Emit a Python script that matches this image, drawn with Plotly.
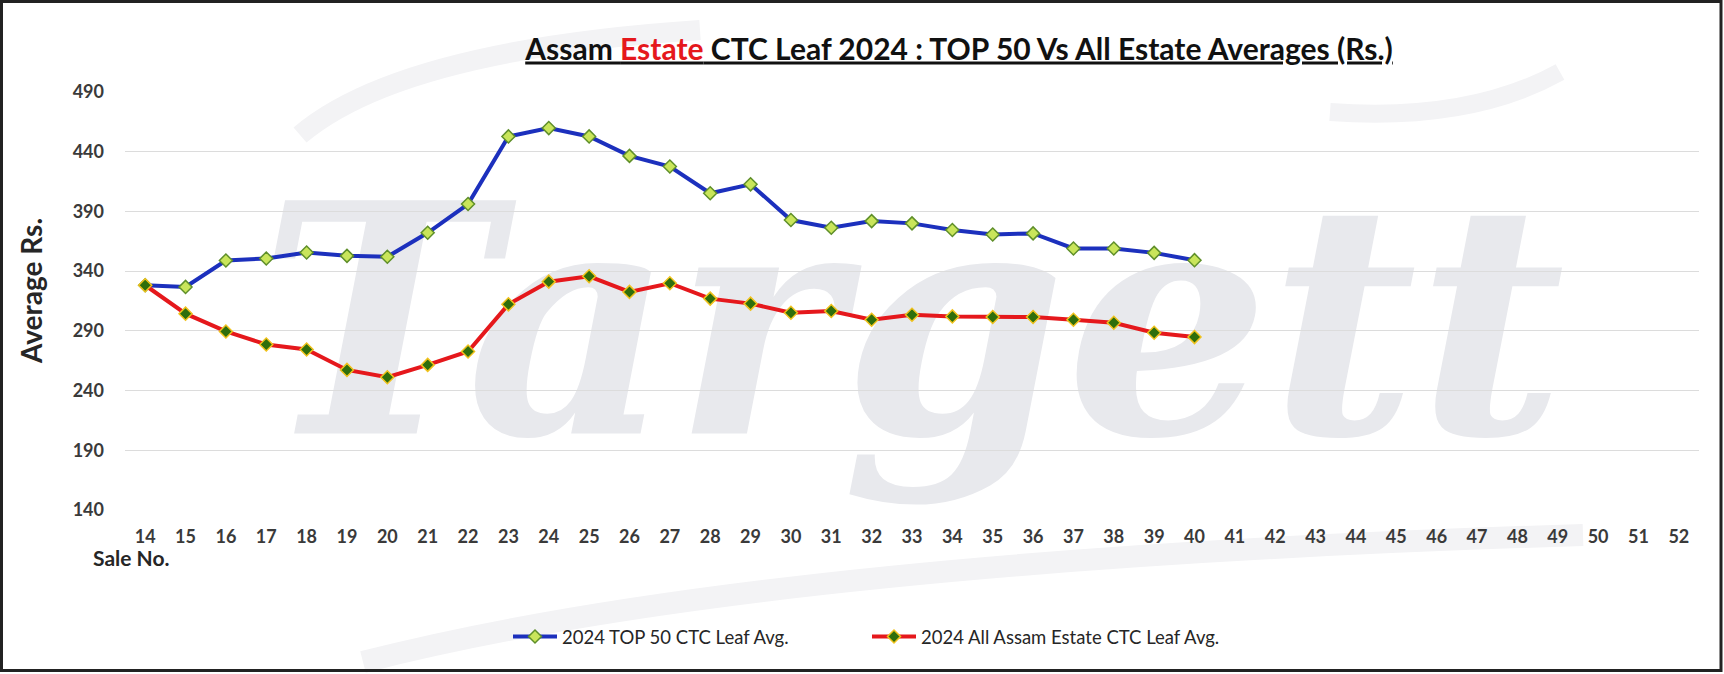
import plotly.graph_objects as go

# ---------------- data ----------------
sale_ticks = list(range(14, 53))
sale_nos = list(range(14, 41))
top50_avg = [328.2, 326.8, 348.9, 350.6, 355.6, 352.8, 352.0, 372.1, 396.2,
             452.8, 459.8, 452.8, 436.5, 427.6, 405.2, 412.7, 382.8, 376.3,
             381.9, 380.0, 374.4, 370.7, 371.6, 359.0, 359.0, 355.3, 349.2]
all_assam_avg = [328.2, 304.4, 289.5, 278.6, 274.4, 257.3, 251.2, 261.5, 272.7,
                 312.2, 331.2, 335.7, 322.6, 329.9, 317.0, 312.8, 305.2, 306.6,
                 299.3, 303.5, 302.1, 301.6, 301.6, 299.3, 296.8, 288.4, 284.8]
series_names = ["2024 TOP 50 CTC Leaf Avg.", "2024 All Assam Estate CTC Leaf Avg."]
y_ticks = [140, 190, 240, 290, 340, 390, 440, 490]

# ---------------- layout geometry ----------------
W, H = 1724, 674
ML, MR, MT, MB = 125, 25, 92, 164
PW, PH = W - ML - MR, H - MT - MB


def px_x(px):
    return (px - ML) / PW


def px_y(py):
    return (H - MB - py) / PH


def swoosh(p0, c, p1):
    return "M {},{} Q {},{} {},{}".format(px_x(p0[0]), px_y(p0[1]),
                                         px_x(c[0]), px_y(c[1]),
                                         px_x(p1[0]), px_y(p1[1]))


FONT = "Lato"
TXT = "#3a3a3a"

fig = go.Figure()

fig.add_trace(go.Scatter(
    x=sale_nos, y=top50_avg, name=series_names[0], mode="lines+markers",
    line=dict(color="#1c30bd", width=4),
    marker=dict(symbol="diamond", size=10, color="#c9e55a",
                line=dict(color="#5f8f2a", width=1.5)),
))
fig.add_trace(go.Scatter(
    x=sale_nos, y=all_assam_avg, name=series_names[1], mode="lines+markers",
    line=dict(color="#e5181c", width=4),
    marker=dict(symbol="diamond", size=10, color="#2f6e0c",
                line=dict(color="#f0c21c", width=1.5)),
))

title_text = ("<u>Assam <span style='color:#e5181c'>Estate</span> CTC Leaf 2024 : "
              "TOP 50 Vs All Estate Averages (Rs.)</u>")

wm_color = "#f3f3f5"

fig.update_layout(
    width=W, height=H,
    margin=dict(l=ML, r=MR, t=MT, b=MB),
    paper_bgcolor="white", plot_bgcolor="rgba(0,0,0,0)",
    title=dict(text=title_text, xref="container", x=959 / W, xanchor="center",
               yref="container", y=1 - 49 / H, yanchor="middle",
               font=dict(family=FONT, size=30, color="#111111", weight="bold")),
    xaxis=dict(range=[13.5, 52.5], tickmode="array", tickvals=sale_ticks,
               ticktext=[str(v) for v in sale_ticks], showgrid=False,
               zeroline=False, showline=False, ticks="",
               ticklabelstandoff=14,
               tickfont=dict(family=FONT, size=18, color=TXT, weight="bold")),
    yaxis=dict(range=[140, 490], tickmode="array", tickvals=y_ticks,
               showgrid=True, gridcolor="#dcdcdc", gridwidth=1,
               zeroline=False, showline=False, ticks="",
               ticklabelstandoff=20,
               tickfont=dict(family=FONT, size=18, color=TXT, weight="bold")),
    legend=dict(orientation="h", x=px_x(867), xanchor="center",
                y=px_y(637), yanchor="middle",
                font=dict(family=FONT, size=18.5, color="#262626"),
                bgcolor="rgba(0,0,0,0)", itemwidth=44,
                entrywidth=300, entrywidthmode="pixels"),
    showlegend=True,
    annotations=[
        dict(text="<b>Average Rs.</b>", textangle=-90, xref="paper", yref="paper",
             x=px_x(31), y=px_y(291), xanchor="center", yanchor="middle",
             showarrow=False, font=dict(family=FONT, size=28, color="#262626")),
        dict(text="<b>Sale No.</b>", xref="paper", yref="paper",
             x=px_x(131), y=px_y(557), xanchor="center", yanchor="middle",
             showarrow=False, font=dict(family=FONT, size=21, color="#262626")),
    ],
    shapes=[
        # watermark swooshes
        dict(type="path", xref="paper", yref="paper", layer="below",
             path=swoosh((300, 135), (400, 50), (700, 30)),
             line=dict(color=wm_color, width=20)),
        dict(type="path", xref="paper", yref="paper", layer="below",
             path=swoosh((1330, 112), (1470, 122), (1560, 72)),
             line=dict(color=wm_color, width=18)),
        dict(type="path", xref="paper", yref="paper", layer="below",
             path=swoosh((363, 662), (760, 560), (1583, 535)),
             line=dict(color=wm_color, width=22)),
        # watermark text
        dict(type="rect", xref="paper", yref="paper", x0=0, x1=1, y0=0, y1=1,
             line=dict(width=0), fillcolor="rgba(0,0,0,0)", layer="below",
             label=dict(text="<b><i>Targett</i></b>", textposition="middle center",
                        font=dict(family="DejaVu Serif", size=320, color="#e8e9ed"))),
        # figure border
        dict(type="rect", xref="paper", yref="paper",
             x0=px_x(1.5), x1=px_x(1721), y0=px_y(1.5), y1=px_y(670.5),
             line=dict(color="#222222", width=3), fillcolor="rgba(0,0,0,0)",
             layer="above"),
    ],
)

fig.write_html("out.html", config={"displayModeBar": False},
               post_script="document.body.style.margin='0';document.body.style.overflow='hidden';")
